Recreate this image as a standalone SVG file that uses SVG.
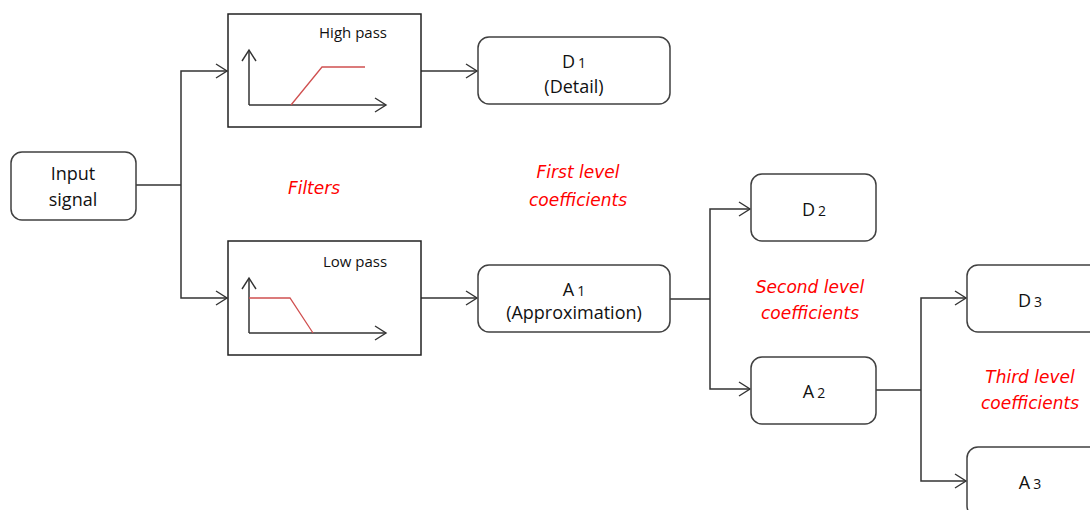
<svg xmlns="http://www.w3.org/2000/svg" width="1090" height="510" viewBox="0 0 1090 510">
<defs>
<marker id="arr" markerWidth="14" markerHeight="16" refX="12" refY="8" orient="auto" markerUnits="userSpaceOnUse">
<path d="M1,1 L12,8 L1,15" fill="none" stroke="#333" stroke-width="1.4"/>
</marker>
<style>
.node{fill:#fff;stroke:#404040;stroke-width:1.5}
.fbox{fill:#fff;stroke:#222;stroke-width:1.5}
.t{font-family:"Open Sans","DejaVu Sans",sans-serif;font-size:18px;fill:#111;text-anchor:middle}
.s{font-family:"Open Sans","DejaVu Sans",sans-serif;font-size:14px;fill:#111}
.lbl{font-family:"Open Sans","DejaVu Sans",sans-serif;font-size:15px;fill:#111;text-anchor:middle}
.red{font-family:"DejaVu Sans","Open Sans",sans-serif;font-style:italic;font-size:17px;fill:#f00;text-anchor:middle}
.c{fill:none;stroke:#333;stroke-width:1.5}
.ax{fill:none;stroke:#333;stroke-width:1.5}
.curve{fill:none;stroke:#d05050;stroke-width:1.3}
</style>
</defs>
<g id="connectors">
<path class="c" d="M136,185 H181"/>
<path class="c" d="M181,185 V71 H227" marker-end="url(#arr)"/>
<path class="c" d="M181,185 V298 H227" marker-end="url(#arr)"/>
<path class="c" d="M421,71 H477" marker-end="url(#arr)"/>
<path class="c" d="M421,298 H477" marker-end="url(#arr)"/>
<path class="c" d="M670,299 H710" stroke-width="2.2"/>
<path class="c" d="M710,299 V209 H750" marker-end="url(#arr)"/>
<path class="c" d="M710,299 V389 H750" marker-end="url(#arr)"/>
<path class="c" d="M876,390 H921"/>
<path class="c" d="M921,390 V298 H966" marker-end="url(#arr)"/>
<path class="c" d="M921,390 V481 H966" marker-end="url(#arr)"/>
</g>
<g id="input">
<rect class="node" x="11" y="152" width="125" height="68" rx="11"/>
<text class="t" x="73" y="180">Input</text>
<text class="t" x="73" y="206">signal</text>
</g>
<g id="highpass">
<rect class="fbox" x="228" y="14" width="193" height="113"/>
<text class="lbl" x="353" y="38">High pass</text>
<path class="ax" d="M249,105 V50" marker-end="url(#arr)"/>
<path class="ax" d="M249,105 H386" marker-end="url(#arr)"/>
<path class="curve" d="M291,105 L322,67 H365"/>
</g>
<g id="lowpass">
<rect class="fbox" x="228" y="241" width="193" height="114"/>
<text class="lbl" x="355" y="267">Low pass</text>
<path class="ax" d="M249,333 V278" marker-end="url(#arr)"/>
<path class="ax" d="M249,333 H386" marker-end="url(#arr)"/>
<path class="curve" d="M249,298 H290 L313,333"/>
</g>
<g id="d1">
<rect class="node" x="478" y="37" width="192" height="67" rx="11"/>
<text class="t" x="574" y="68">D<tspan class="s" dx="3">1</tspan></text>
<text class="t" x="574" y="93">(Detail)</text>
</g>
<g id="a1">
<rect class="node" x="478" y="265" width="192" height="67" rx="11"/>
<text class="t" x="574" y="296">A<tspan class="s" dx="3">1</tspan></text>
<text class="t" x="574" y="319">(Approximation)</text>
</g>
<g id="d2">
<rect class="node" x="751" y="174" width="125" height="67" rx="11"/>
<text class="t" x="814" y="216">D<tspan class="s" dx="3">2</tspan></text>
</g>
<g id="a2">
<rect class="node" x="751" y="357" width="125" height="67" rx="11"/>
<text class="t" x="814" y="398">A<tspan class="s" dx="3">2</tspan></text>
</g>
<g id="d3">
<rect class="node" x="967" y="265" width="135" height="67" rx="11"/>
<text class="t" x="1030" y="307">D<tspan class="s" dx="3">3</tspan></text>
</g>
<g id="a3">
<rect class="node" x="967" y="447" width="135" height="70" rx="11"/>
<text class="t" x="1030" y="489">A<tspan class="s" dx="3">3</tspan></text>
</g>
<g id="labels">
<text class="red" x="314" y="194">Filters</text>
<text class="red" x="578" y="178">First level</text>
<text class="red" x="578" y="206">coefficients</text>
<text class="red" x="810" y="293">Second level</text>
<text class="red" x="810" y="319">coefficients</text>
<text class="red" x="1030" y="383">Third level</text>
<text class="red" x="1030" y="409">coefficients</text>
</g>
</svg>
